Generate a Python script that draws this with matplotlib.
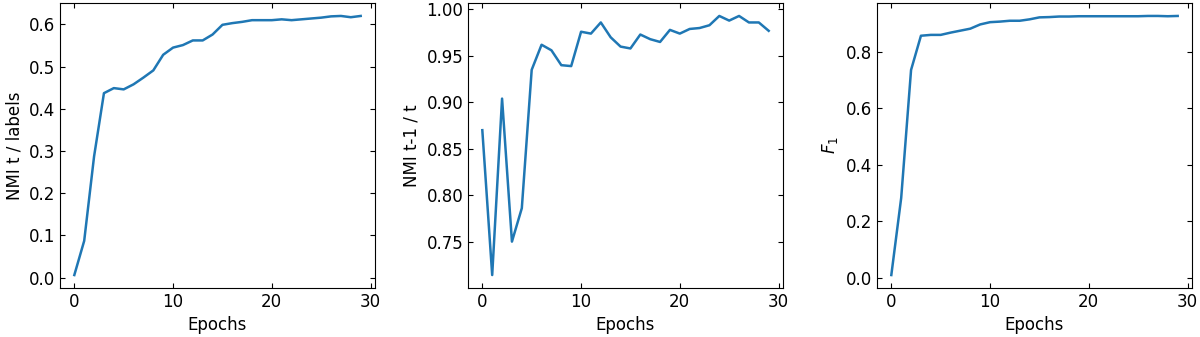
import matplotlib
matplotlib.use("Agg")
import matplotlib.pyplot as plt
import numpy as np

epochs = list(range(30))
nmi_labels = [0.006, 0.087, 0.287, 0.437, 0.449, 0.446, 0.458, 0.474, 0.491, 0.528,
              0.545, 0.551, 0.562, 0.562, 0.576, 0.599, 0.603, 0.606, 0.610, 0.610,
              0.610, 0.612, 0.610, 0.612, 0.614, 0.616, 0.619, 0.620, 0.617, 0.620]
nmi_prev = [0.870, 0.714, 0.904, 0.750, 0.786, 0.935, 0.962, 0.956, 0.940, 0.939,
            0.976, 0.974, 0.986, 0.970, 0.960, 0.958, 0.973, 0.968, 0.965, 0.978,
            0.974, 0.979, 0.980, 0.983, 0.993, 0.988, 0.993, 0.986, 0.986, 0.977]
f1 = [0.009, 0.282, 0.735, 0.856, 0.859, 0.859, 0.867, 0.874, 0.881, 0.896,
      0.904, 0.906, 0.909, 0.909, 0.914, 0.921, 0.922, 0.924, 0.924, 0.925,
      0.925, 0.925, 0.925, 0.925, 0.925, 0.925, 0.926, 0.926, 0.925, 0.926]

series = [nmi_labels, nmi_prev, f1]
ylabels = ["NMI t / labels", "NMI t-1 / t", "$F_1$"]
lefts = [60, 468, 877]

fig = plt.figure(figsize=(12, 3.37), dpi=100)
W, H = 1200, 337
for left, ys, yl in zip(lefts, series, ylabels):
    ax = fig.add_axes([left / W, (H - 288) / H, 315 / W, 285 / H])
    ax.plot(epochs, ys, color="#1f77b4", lw=1.8)
    ax.set_xlabel("Epochs", fontsize=12)
    ax.set_ylabel(yl, fontsize=12)
    ax.tick_params(direction="in", top=True, right=True, labelsize=12)
    ax.set_xticks([0, 10, 20, 30])

fig.savefig("out.png", dpi=100)
